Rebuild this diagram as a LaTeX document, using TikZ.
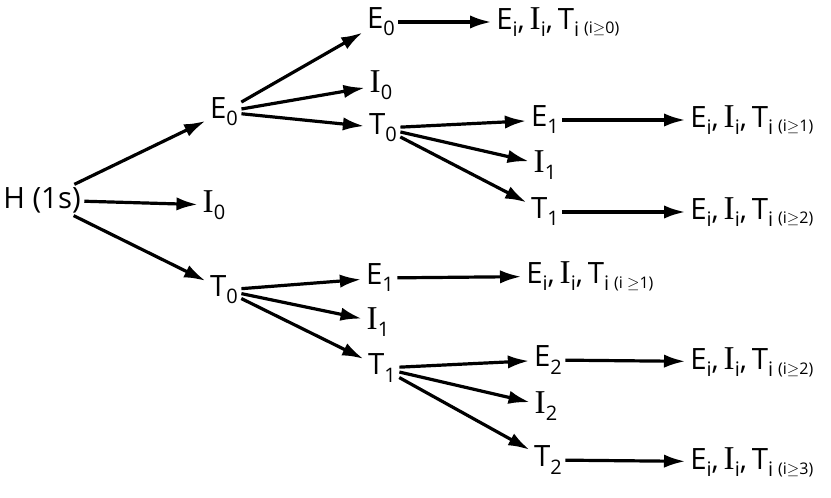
\documentclass[tikz,border=0pt]{standalone}
\usepackage{fontspec}
\setmainfont{Open Sans}
\newfontfamily\serifI{Liberation Serif}
\usetikzlibrary{arrows.meta}
\newcommand{\II}{{\serifI\fontsize{25}{25}\selectfont I}}
\newcommand{\sub}[1]{\raisebox{-0.45ex}{\fontsize{15}{15}\selectfont #1}}
\newcommand{\cond}[1]{\raisebox{-0.3ex}{\fontsize{12}{12}\selectfont (#1)}}
\newcommand{\EIT}[1]{E\sub{i},\,\II\sub{i},\,T\sub{i}\,\cond{#1}}
\begin{document}
\begin{tikzpicture}[x=0.75pt,y=-0.75pt,
  lbl/.style={font=\fontsize{22}{22}\selectfont, inner sep=1.5pt},
  arr/.style={line width=2.4pt,-{Latex[length=16pt,width=10pt]}, shorten >=2pt, shorten <=1pt}]
\useasboundingbox (0,0) rectangle (831,498);
\node[lbl] (h) at (42,200) {H (1s)};
\node[lbl] (a) at (224,112) {E\sub{0}};
\node[lbl] (b) at (214,205) {\II\sub{0}};
\node[lbl] (c) at (224,290) {T\sub{0}};
\node[lbl] (a1) at (381,22) {E\sub{0}};
\node[lbl] (a2) at (381,85) {\II\sub{0}};
\node[lbl] (a3) at (383,128) {T\sub{0}};
\node[lbl] (c1) at (380,278) {E\sub{1}};
\node[lbl] (c2) at (378,322) {\II\sub{1}};
\node[lbl] (c3) at (382,368) {T\sub{1}};
\node[lbl] (a31) at (545,120) {E\sub{1}};
\node[lbl] (a32) at (545,165) {\II\sub{1}};
\node[lbl] (a33) at (545,212) {T\sub{1}};
\node[lbl] (c31) at (548,360) {E\sub{2}};
\node[lbl] (c32) at (546,406) {\II\sub{2}};
\node[lbl] (c33) at (548,460) {T\sub{2}};
\node[lbl,anchor=west] (r1) at (494,22) {\EIT{i$\geq$0}};
\node[lbl,anchor=west] (r2) at (688,120) {\EIT{i$\geq$1}};
\node[lbl,anchor=west] (r3) at (688,212) {\EIT{i$\geq$2}};
\node[lbl,anchor=west] (r4) at (524,276) {\EIT{i $\geq$1}};
\node[lbl,anchor=west] (r5) at (688,362) {\EIT{i$\geq$2}};
\node[lbl,anchor=west] (r6) at (688,462) {\EIT{i$\geq$3}};
\draw[arr] (h) -- (a);
\draw[arr] (h) -- (b);
\draw[arr] (h) -- (c);
\draw[arr] (a) -- (a1);
\draw[arr] (a) -- (a2);
\draw[arr] (a) -- (a3);
\draw[arr] (c) -- (c1);
\draw[arr] (c) -- (c2);
\draw[arr] (c) -- (c3);
\draw[arr] (a3) -- (a31);
\draw[arr] (a3) -- (a32);
\draw[arr] (a3) -- (a33);
\draw[arr] (c3) -- (c31);
\draw[arr] (c3) -- (c32);
\draw[arr] (c3) -- (c33);
\draw[arr] (a1) -- (r1);
\draw[arr] (a31) -- (r2);
\draw[arr] (a33) -- (r3);
\draw[arr] (c1) -- (r4);
\draw[arr] (c31) -- (r5);
\draw[arr] (c33) -- (r6);
\end{tikzpicture}
\end{document}
